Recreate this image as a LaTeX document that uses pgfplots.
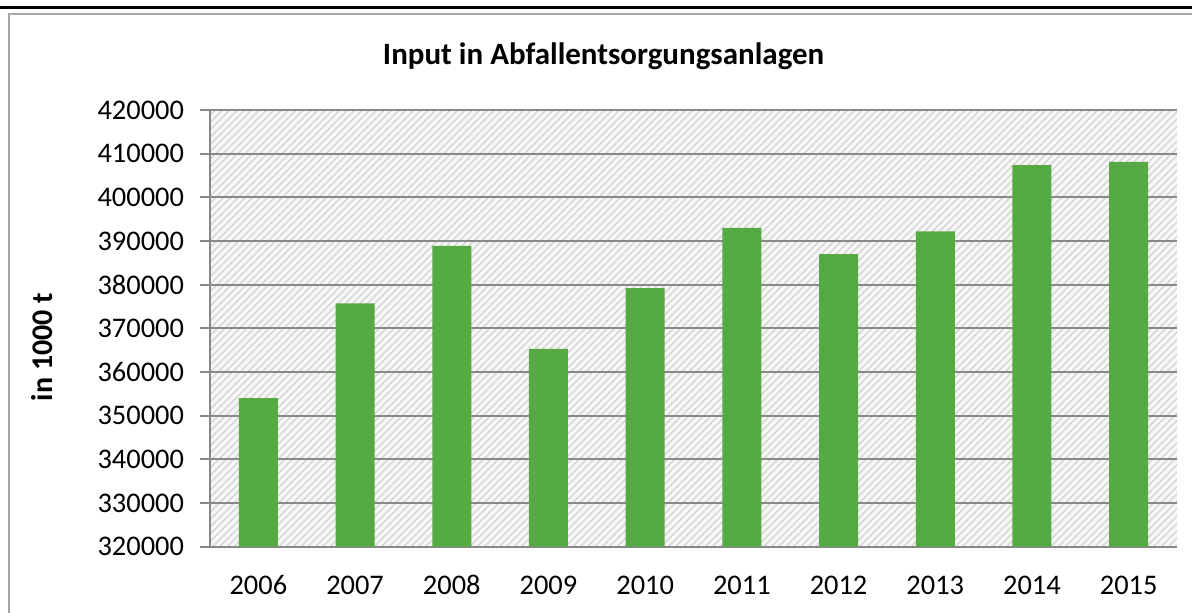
\documentclass[border=0pt]{standalone}
\usepackage{pgfplots}
\pgfplotsset{compat=1.18}
\usepackage{fontspec}
\setmainfont{Carlito}
\usetikzlibrary{patterns.meta}
\definecolor{bargreen}{RGB}{86,170,68}
\definecolor{gridgray}{RGB}{137,137,137}
\definecolor{framegray}{RGB}{166,166,166}
\begin{document}
\begin{tikzpicture}
\clip (0,0) rectangle (596pt,306pt);
\draw[black, line width=1.2pt] (0,302.25pt) -- (596pt,302.25pt);
\draw[framegray, line width=1.2pt] (4.5pt,-5pt) -- (4.5pt,299pt) -- (605pt,299pt);
\begin{axis}[
  at={(105pt,32.65pt)}, anchor=south west,
  scale only axis,
  width=483.5pt, height=218.35pt,
  xmin=-0.5, xmax=9.5,
  ymin=320000, ymax=420000,
  ytick={320000,330000,...,420000},
  scaled y ticks=false,
  /pgf/number format/assume math mode=true,
  yticklabel style={/pgf/number format/fixed, /pgf/number format/1000 sep={}, font=\fontsize{14.2pt}{16pt}\selectfont, xshift=-4.5pt},
  xtick={0,...,9},
  xticklabels={2006,2007,2008,2009,2010,2011,2012,2013,2014,2015},
  xticklabel style={font=\fontsize{14.2pt}{16pt}\selectfont, anchor=base, text height=9pt, text depth=0pt, yshift=-19pt},
  minor xtick={-0.5,0.5,...,9.5},
  xtick style={draw=none},
  minor x tick style={gridgray, line width=1pt},
  ytick style={gridgray, line width=1pt},
  tick align=outside,
  major tick length=5pt,
  minor tick length=4.5pt,
  ymajorgrids,
  major grid style={gridgray, line width=1pt},
  axis x line*=bottom, axis y line*=left,
  axis line style={gridgray, line width=1pt, -},
  axis background/.style={preaction={fill=black!3}, pattern={Lines[angle=45,distance=2.6pt,line width=0.7pt]}, pattern color=black!17},
  ylabel={\bfseries in 1000 t},
  every axis y label/.style={at={(axis description cs:-0.174,0.457)}, rotate=90, anchor=center, font=\fontsize{15pt}{17pt}\selectfont},
  title={\bfseries Input in Abfallentsorgungsanlagen},
  every axis title/.style={at={(axis description cs:0.407,1.124)}, anchor=center, font=\fontsize{15.5pt}{18pt}\selectfont},
]
\addplot[ybar, bar width=19.5pt, fill=bargreen, draw=none] coordinates {
(0,354000) (1,375700) (2,388900) (3,365300) (4,379200)
(5,393000) (6,387000) (7,392200) (8,407400) (9,408100)};
\end{axis}
\end{tikzpicture}
\end{document}
